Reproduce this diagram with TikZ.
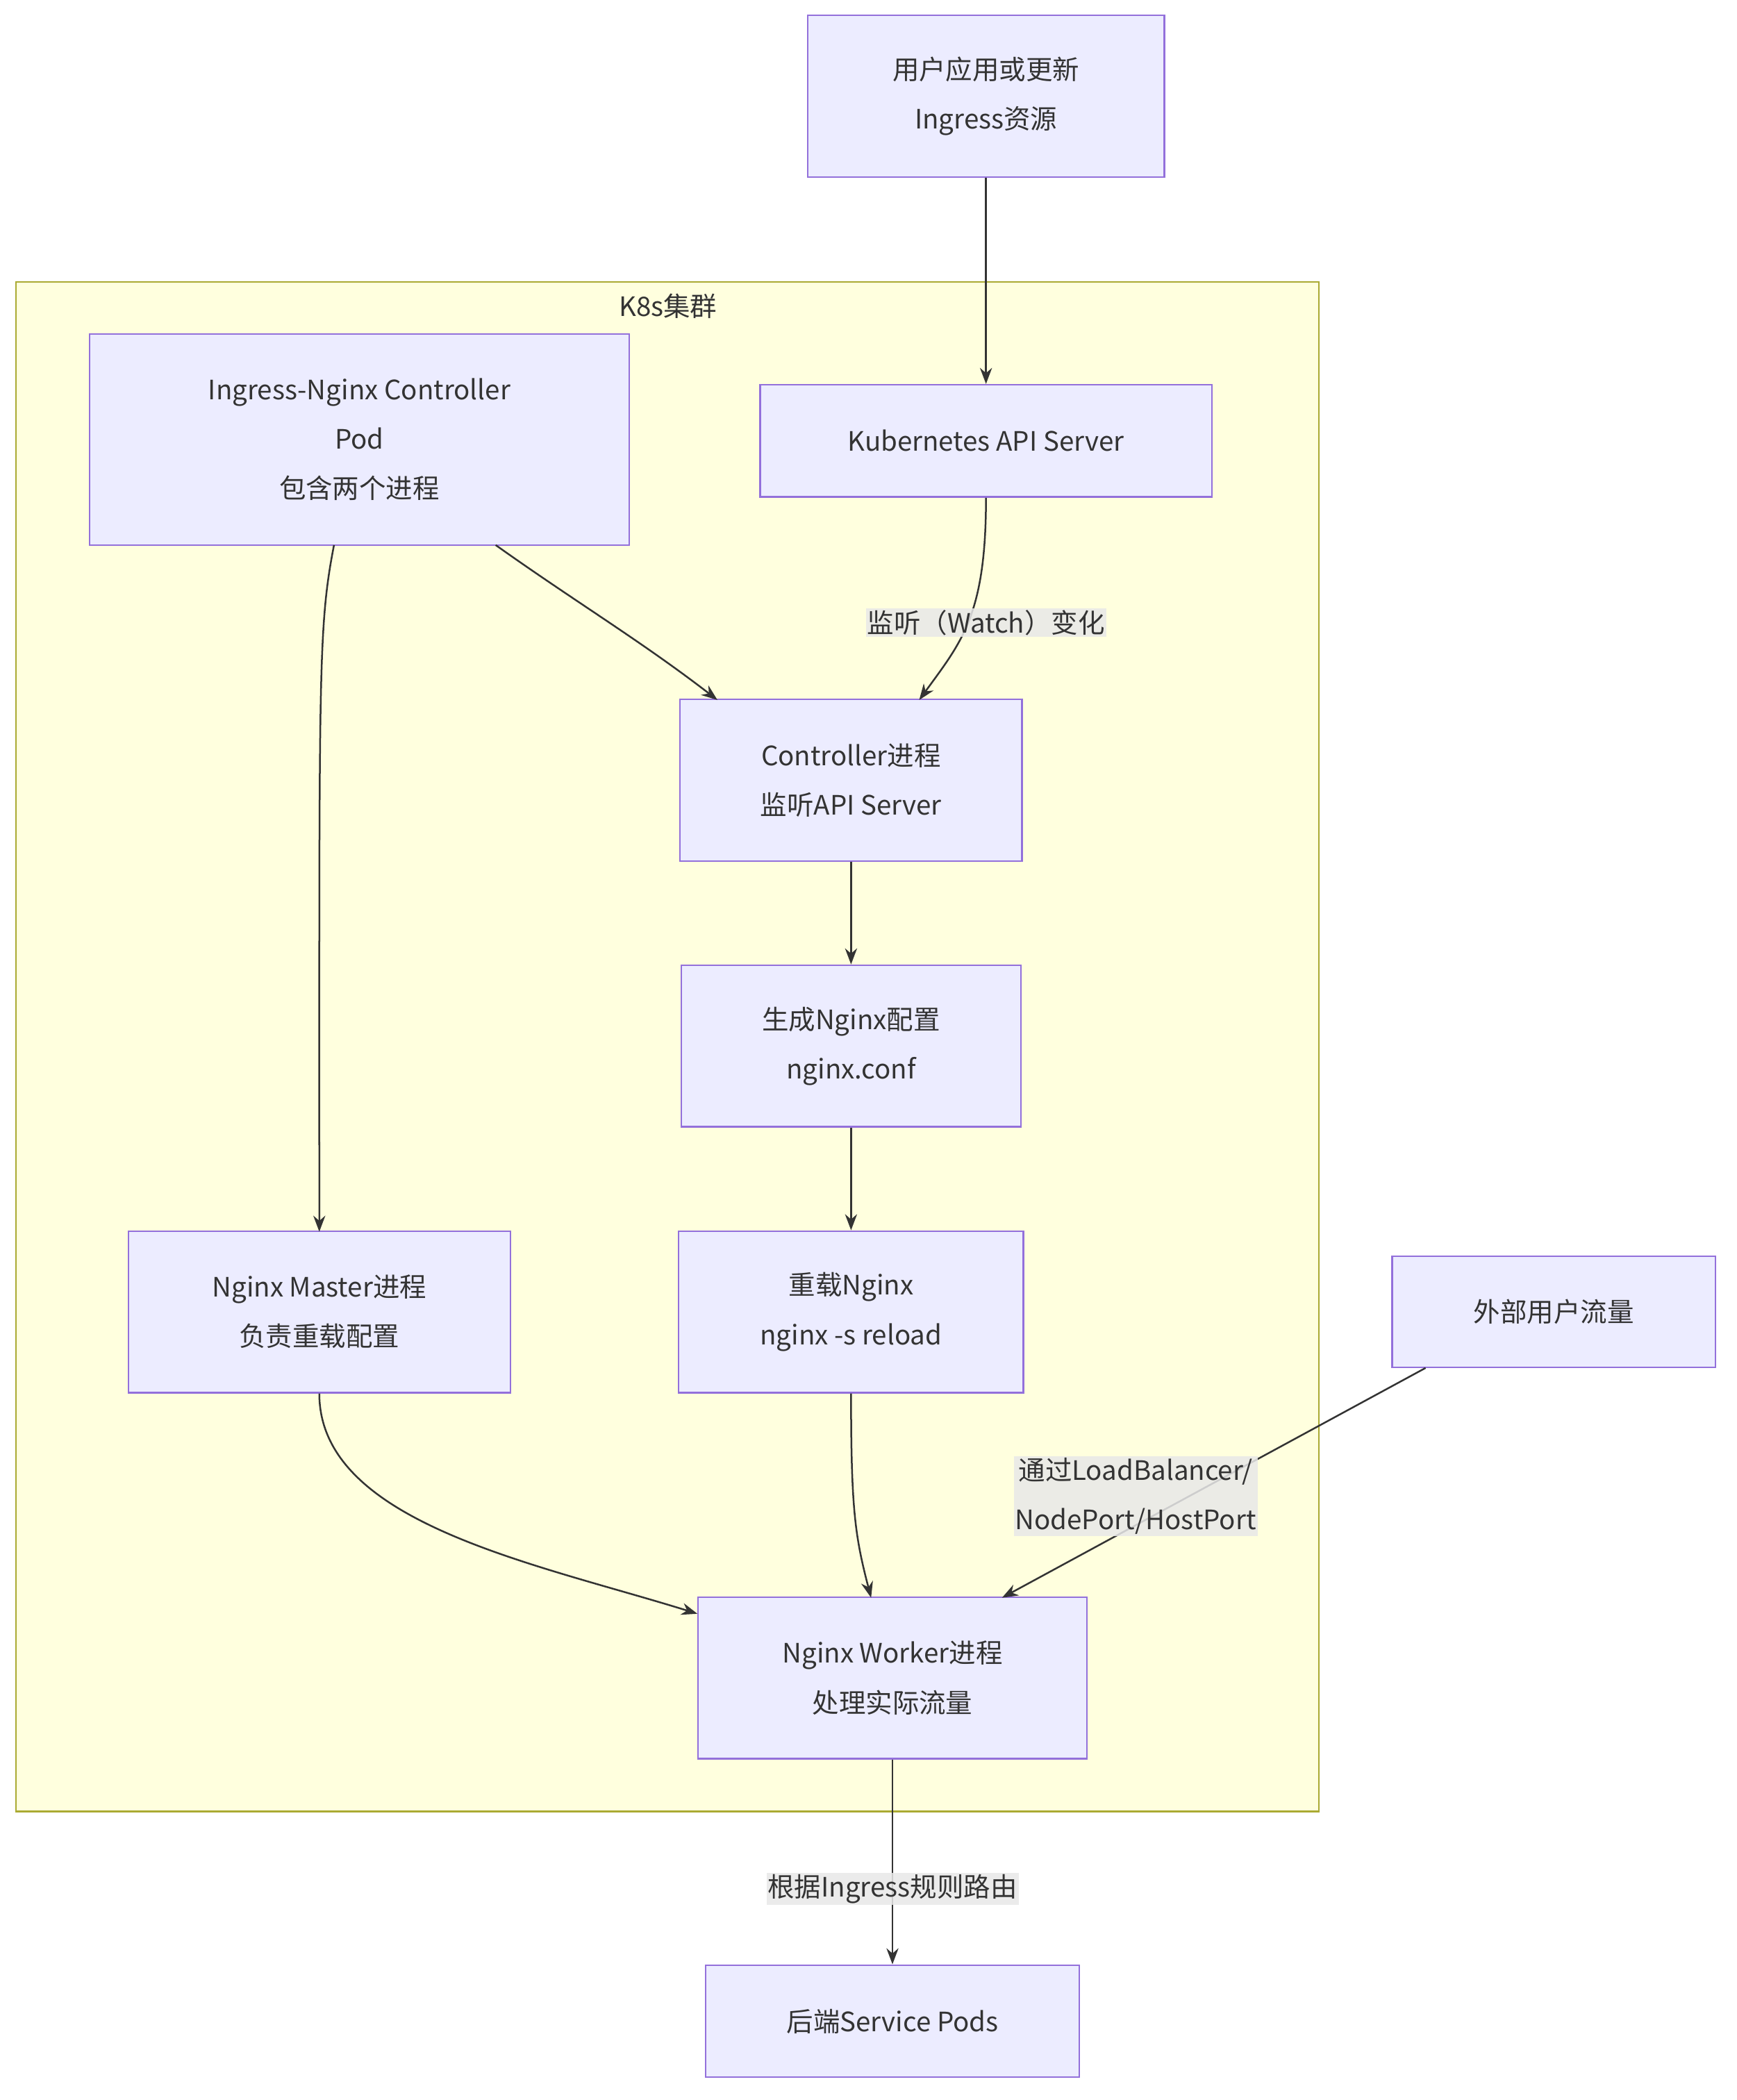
\documentclass[tikz,border=0pt]{standalone}
\usepackage{fontspec}
\setmainfont{Noto Sans CJK SC}
\usetikzlibrary{arrows.meta}
\definecolor{nfill}{HTML}{ECECFF}
\definecolor{nline}{HTML}{9370DB}
\definecolor{cfill}{HTML}{FFFFDE}
\definecolor{cline}{HTML}{AAAA33}
\definecolor{txt}{HTML}{333333}
\definecolor{lbg}{HTML}{E8E8E8}
\tikzset{
  box/.style={draw=nline,fill=nfill,line width=1.2pt,text=txt,font=\fontsize{20}{37}\selectfont,align=center,inner sep=0pt},
  arr/.style={draw=txt,line width=1.3pt,-{Stealth[length=12pt,width=9pt]}},
  lab/.style={fill=lbg,fill opacity=0.85,text opacity=1,text=txt,font=\fontsize{20}{37}\selectfont,align=center,inner sep=1pt}
}
\begin{document}
\begin{tikzpicture}[x=1pt,y=-1pt]
\useasboundingbox (0,0) rectangle (1300,1572);
\draw[fill=cfill,draw=cline,line width=1.2pt] (12,211) rectangle (987,1356);
\node[text=txt,font=\fontsize{20}{24}\selectfont] (cl) at (500,229) {K8s集群};
\node[box,minimum width=267pt,minimum height=121pt] (user) at (738,72) {用户应用或更新\\Ingress资源};
\node[box,minimum width=404pt,minimum height=158pt] (ic) at (269,329) {Ingress-Nginx Controller\\Pod\\包含两个进程};
\node[box,minimum width=338pt,minimum height=84pt] (api) at (738,330) {Kubernetes API Server};
\node[box,minimum width=256pt,minimum height=121pt] (ctl) at (637,584) {Controller进程\\监听API Server};
\node[box,minimum width=254pt,minimum height=121pt] (gen) at (637,783) {生成Nginx配置\\nginx.conf};
\node[box,minimum width=258pt,minimum height=121pt] (rel) at (637,982) {重载Nginx\\nginx -s reload};
\node[box,minimum width=286pt,minimum height=121pt] (mas) at (239,982) {Nginx Master进程\\负责重载配置};
\node[box,minimum width=242pt,minimum height=83pt] (ext) at (1163,982) {外部用户流量};
\node[box,minimum width=291pt,minimum height=121pt] (wk) at (668,1256) {Nginx Worker进程\\处理实际流量};
\node[box,minimum width=280pt,minimum height=84pt] (be) at (668,1513) {后端Service Pods};

\draw[arr] (user) -- (api);
\draw[arr] (api.south) .. controls (738,460) and (720,480) .. (688,524);
\node[lab] (l1) at (738,466) {监听（Watch）变化};
\draw[arr] (371,408) .. controls (430,450) and (480,480) .. (537,524);
\draw[arr] (250,408) .. controls (238,470) and (239,500) .. (239,922);
\draw[arr] (ctl) -- (gen);
\draw[arr] (gen) -- (rel);
\draw[arr] (mas.south) .. controls (239,1140) and (400,1170) .. (522,1208);
\draw[arr] (rel.south) .. controls (637,1130) and (640,1150) .. (652,1196);
\draw[arr] (1067,1024) -- (750,1196);
\node[lab] (l2) at (850,1120) {通过LoadBalancer/\\NodePort/HostPort};
\draw[arr] (wk) -- (be);
\node[lab] (l3) at (668,1414) {根据Ingress规则路由};
\end{tikzpicture}
\end{document}
